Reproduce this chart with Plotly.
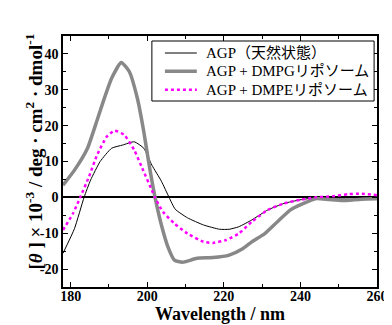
import plotly.graph_objects as go

# AGP (native)
wl_agp = [178, 181, 183.5, 185.2, 187.7, 190.7, 193.6, 196.6, 199.1, 201.2, 203.7, 205.7, 207.3,
          210.5, 214.7, 218.9, 221.4, 223.9, 227.3, 231.5, 235.7, 239.9, 244.1, 250, 255, 260]
cd_agp = [-15.6, -8.7, 0, 4.8, 10.0, 13.7, 14.6, 15.5, 13.7, 9.0, 4.5, 0, -3.3,
          -5.7, -7.7, -8.9, -8.9, -8.2, -6.3, -3.5, -1.7, -0.7, -0.1, -0.2, -0.1, 0]

# AGP + DMPG liposome
wl_pg = [178, 181, 184.4, 186.9, 188.5, 190.7, 193.2, 195.3, 197.4, 199.1, 200.5, 202, 203.7, 205.4,
         207.1, 209.2, 213, 217.2, 221.4, 224.8, 227.3, 230.7, 234, 237.4, 240.8, 244.1, 247.5,
         250.9, 256, 260]
cd_pg = [3.4, 7.6, 13.7, 21.5, 26.7, 33.2, 37.6, 35.1, 27.7, 18.3, 9.0, 0.2, -7.7, -13.8,
         -17.5, -18.1, -17.0, -16.8, -16.1, -14.4, -12.4, -10.1, -6.8, -3.5, -1.7, -0.3, -0.6,
         -0.9, -0.5, -0.4]

# AGP + DMPE liposome
wl_pe = [178, 180.6, 182.5, 184.8, 186.9, 189.4, 191.5, 194, 196.6, 198.7, 201.2, 202, 204.1, 207.1,
         210.5, 214.7, 217.2, 220.6, 223.9, 227.3, 231.5, 235.7, 239.9, 244.1, 248.3, 252.5,
         256, 260]
cd_pe = [-9.1, -4.5, 0, 5.8, 11.8, 16.9, 18.6, 17.4, 13.2, 8.1, 2.0, 0, -4.0, -7.3,
         -10.1, -12.4, -12.7, -11.9, -10.1, -6.8, -3.5, -1.7, -0.7, 0, 0.3, 0.9, 1.0, 0.6]

names = ["AGP（天然状態）", "AGP + DMPGリポソーム", "AGP + DMPEリポソーム"]

x_ticks = [180, 200, 220, 240, 260]
y_ticks = [-20, -10, 0, 10, 20, 30, 40]

styles = [dict(color="black", width=1),
          dict(color="#888888", width=3.5),
          dict(color="#ff00ff", width=2.5, dash="dot")]

fig = go.Figure()
for wl, cd, nm, st in zip([wl_agp, wl_pg, wl_pe], [cd_agp, cd_pg, cd_pe], names, styles):
    fig.add_trace(go.Scatter(x=wl, y=cd, name=nm, mode="lines", showlegend=False,
                             line=dict(shape="spline", smoothing=0.5, **st)))

axis_common = dict(showline=True, linecolor="black", linewidth=1.5, mirror="ticks",
                   ticks="inside", ticklen=5, tickwidth=1.2, tickcolor="black",
                   showgrid=False, ticklabeloverflow="allow",
                   tickfont=dict(family="Liberation Serif", size=14, color="black", weight="bold"))

fig.update_xaxes(range=[178, 260], tickvals=x_ticks,
                 ticktext=[f"<b>{v}</b>" for v in x_ticks],
                 minor=dict(ticks="inside", ticklen=3, tickcolor="black", dtick=10, tick0=180),
                 zeroline=False, ticklabelstandoff=-5,
                 title=dict(text="<b>Wavelength / nm</b>", standoff=0,
                            font=dict(family="Liberation Serif", size=18, color="black")),
                 **axis_common)
fig.update_yaxes(range=[-25, 45], tickvals=y_ticks,
                 ticktext=[f"<b>{v}</b>" for v in y_ticks],
                 minor=dict(ticks="inside", ticklen=3, tickcolor="black", dtick=5, tick0=0),
                 zeroline=True, zerolinecolor="black", zerolinewidth=1.8,
                 **axis_common)

# manual legend (box, line samples, labels) in paper coordinates
L, R, T, B = 55, 380, 28, 279
px = lambda x: (x - L) / (R - L)
py = lambda y: (B - y) / (B - T)

shapes = [dict(type="rect", xref="paper", yref="paper",
               x0=px(147), x1=px(377), y0=py(93), y1=py(33),
               line=dict(color="black", width=1), fillcolor="white", layer="above")]
annotations = []
row_y = [45, 63.3, 81.7]
for nm, st, ry in zip(names, styles, row_y):
    shapes.append(dict(type="line", xref="paper", yref="paper",
                       x0=px(160.5), x1=px(193.5), y0=py(ry), y1=py(ry),
                       line=st, layer="above"))
    annotations.append(dict(text=nm, xref="paper", yref="paper", x=px(201), y=py(ry),
                            xanchor="left", yanchor="middle", showarrow=False,
                            font=dict(family="Liberation Serif, Noto Sans CJK JP", size=15,
                                      color="black")))

annotations.append(dict(
    text="<b>[<i>θ</i> ] × 10<sup>-3</sup> / deg · cm<sup>2</sup> · dmol<sup>-1</sup></b>",
    xref="paper", yref="paper", x=px(24), y=py(143.5), textangle=-90,
    xanchor="center", yanchor="middle", showarrow=False,
    font=dict(family="Liberation Serif", size=19, color="black")))

fig.update_layout(
    width=392, height=325,
    margin=dict(l=L, r=392 - R, t=T, b=325 - B),
    paper_bgcolor="white", plot_bgcolor="white",
    showlegend=False,
    shapes=shapes,
    annotations=annotations,
)

fig.write_html("out.html")
